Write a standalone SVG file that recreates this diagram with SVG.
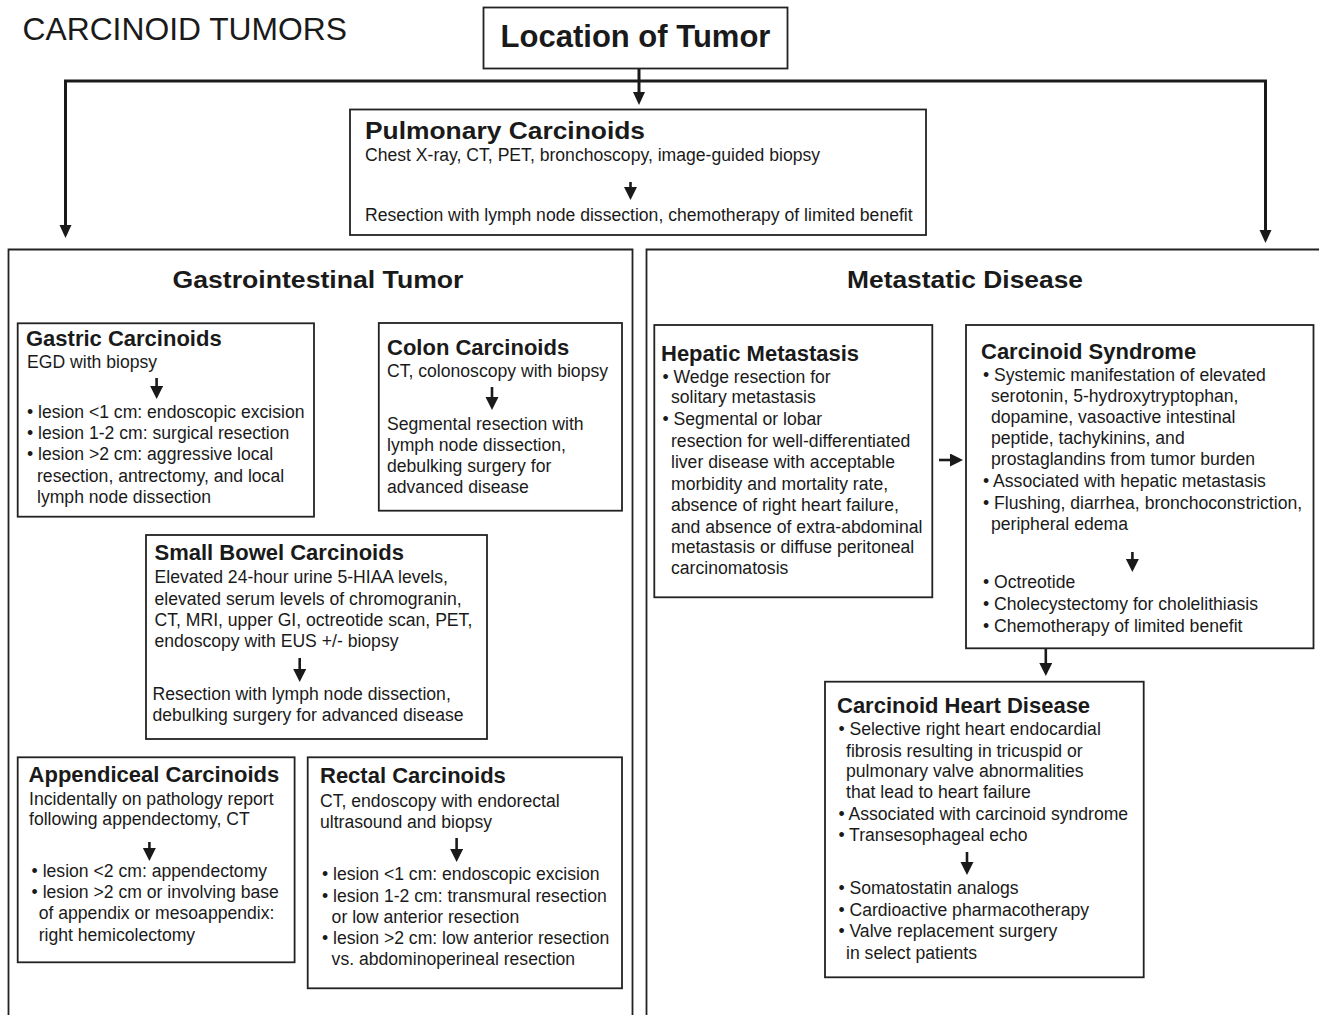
<svg xmlns="http://www.w3.org/2000/svg" width="1319" height="1015" viewBox="0 0 1319 1015">
<style>
text{font-family:"Liberation Sans",Arial,Helvetica,sans-serif;fill:#1a1a1a}
.b{font-size:17.6px}
.t{font-size:22px;font-weight:bold}
.h{font-size:23.6px;font-weight:bold}
.box{fill:#fff;stroke:#222;stroke-width:1.8}
.pan{fill:none;stroke:#222;stroke-width:1.8}
.c{stroke:#1a1a1a;stroke-width:3;fill:none}
.a{stroke:#1a1a1a;stroke-width:2.6;fill:none}
</style>
<defs>
<marker id="big" markerUnits="userSpaceOnUse" markerWidth="14" markerHeight="13" refX="7" refY="6" orient="auto">
<path d="M0,0 L13,6 L0,12 z" fill="#1a1a1a"/>
</marker>
<marker id="sm" markerUnits="userSpaceOnUse" markerWidth="14" markerHeight="14" refX="7" refY="6.5" orient="auto">
<path d="M0,0 L13,6.5 L0,13 z" fill="#1a1a1a"/>
</marker>
</defs>
<rect width="1319" height="1015" fill="#fff"/>

<text x="22.5" y="39.5" style="font-size:31.8px">CARCINOID TUMORS</text>

<g id="connectors">
<path class="c" d="M639,68 V99"/>
<path class="c" d="M65.5,232 V81 H1265.5 V237"/>
<path class="c" d="M639,99 V99.1" marker-end="url(#big)"/>
<path class="c" d="M65.5,231 V232" marker-end="url(#big)"/>
<path class="c" d="M1265.5,236 V237" marker-end="url(#big)"/>
<path class="a" d="M939,460 H957" marker-end="url(#sm)"/>
<path class="a" d="M1045.8,649 V670" marker-end="url(#sm)"/>
</g>

<g id="location">
<rect class="box" x="483.5" y="7.5" width="304" height="61"/>
<text x="635.5" y="47" text-anchor="middle" style="font-size:31px;font-weight:bold">Location of Tumor</text>
</g>

<g id="pulmonary">
<rect class="box" x="350" y="109.5" width="576" height="125.5"/>
<text class="h" x="365" y="139.3" textLength="280" lengthAdjust="spacingAndGlyphs">Pulmonary Carcinoids</text>
<text class="b" x="365" y="160.5">Chest X-ray, CT, PET, bronchoscopy, image-guided biopsy</text>
<path class="a" d="M630.5,182 V194" marker-end="url(#sm)"/>
<text class="b" x="365" y="221">Resection with lymph node dissection, chemotherapy of limited benefit</text>
</g>

<g id="gi-panel">
<path class="pan" d="M8.5,1016 V249.5 H632.5 V1016"/>
<text class="h" x="172.5" y="288" textLength="291" lengthAdjust="spacingAndGlyphs">Gastrointestinal Tumor</text>
</g>

<g id="met-panel">
<path class="pan" d="M646.5,1016 V249.5 H1321"/>
<text class="h" x="847" y="288" textLength="236" lengthAdjust="spacingAndGlyphs">Metastatic Disease</text>
</g>

<g id="gastric">
<rect class="box" x="17.7" y="323.3" width="296.3" height="193.4"/>
<text class="t" x="26" y="346">Gastric Carcinoids</text>
<text class="b" x="27" y="368">EGD with biopsy</text>
<path class="a" d="M156.6,378 V393" marker-end="url(#sm)"/>
<text class="b" x="27" y="418">• lesion &lt;1 cm: endoscopic excision</text>
<text class="b" x="27" y="439">• lesion 1-2 cm: surgical resection</text>
<text class="b" x="27" y="460">• lesion &gt;2 cm: aggressive local</text>
<text class="b" x="37" y="482">resection, antrectomy, and local</text>
<text class="b" x="37" y="503">lymph node dissection</text>
</g>

<g id="colon">
<rect class="box" x="378.8" y="323" width="243.2" height="187.7"/>
<text class="t" x="387" y="355">Colon Carcinoids</text>
<text class="b" x="387" y="377">CT, colonoscopy with biopsy</text>
<path class="a" d="M492,387 V404" marker-end="url(#sm)"/>
<text class="b" x="387" y="430">Segmental resection with</text>
<text class="b" x="387" y="451">lymph node dissection,</text>
<text class="b" x="387" y="472">debulking surgery for</text>
<text class="b" x="387" y="493">advanced disease</text>
</g>

<g id="small-bowel">
<rect class="box" x="146" y="535" width="341" height="204"/>
<text class="t" x="154.5" y="560">Small Bowel Carcinoids</text>
<text class="b" x="154.5" y="583">Elevated 24-hour urine 5-HIAA levels,</text>
<text class="b" x="154.5" y="605">elevated serum levels of chromogranin,</text>
<text class="b" x="154.5" y="626">CT, MRI, upper GI, octreotide scan, PET,</text>
<text class="b" x="154.5" y="647">endoscopy with EUS +/- biopsy</text>
<path class="a" d="M299.7,658 V676" marker-end="url(#sm)"/>
<text class="b" x="152.5" y="700">Resection with lymph node dissection,</text>
<text class="b" x="152.5" y="721">debulking surgery for advanced disease</text>
</g>

<g id="appendiceal">
<rect class="box" x="17.7" y="757.3" width="276.9" height="205"/>
<text class="t" x="28.6" y="782">Appendiceal Carcinoids</text>
<text class="b" x="29" y="805">Incidentally on pathology report</text>
<text class="b" x="29" y="825">following appendectomy, CT</text>
<path class="a" d="M149.4,842 V855" marker-end="url(#sm)"/>
<text class="b" x="31.6" y="877">• lesion &lt;2 cm: appendectomy</text>
<text class="b" x="31.6" y="898">• lesion &gt;2 cm or involving base</text>
<text class="b" x="38.7" y="919">of appendix or mesoappendix:</text>
<text class="b" x="38.7" y="941">right hemicolectomy</text>
</g>

<g id="rectal">
<rect class="box" x="307.7" y="757.3" width="314.3" height="231"/>
<text class="t" x="320" y="783">Rectal Carcinoids</text>
<text class="b" x="320" y="807">CT, endoscopy with endorectal</text>
<text class="b" x="320" y="828">ultrasound and biopsy</text>
<path class="a" d="M456.6,838 V856" marker-end="url(#sm)"/>
<text class="b" x="322" y="880">• lesion &lt;1 cm: endoscopic excision</text>
<text class="b" x="322" y="902">• lesion 1-2 cm: transmural resection</text>
<text class="b" x="331.6" y="923">or low anterior resection</text>
<text class="b" x="322" y="944">• lesion &gt;2 cm: low anterior resection</text>
<text class="b" x="331.6" y="965">vs. abdominoperineal resection</text>
</g>

<g id="hepatic">
<rect class="box" x="654.3" y="325" width="278" height="272.3"/>
<text class="t" x="661" y="361">Hepatic Metastasis</text>
<text class="b" x="662.5" y="383">• Wedge resection for</text>
<text class="b" x="671" y="403">solitary metastasis</text>
<text class="b" x="662.5" y="425">• Segmental or lobar</text>
<text class="b" x="671" y="447">resection for well-differentiated</text>
<text class="b" x="671" y="468">liver disease with acceptable</text>
<text class="b" x="671" y="490">morbidity and mortality rate,</text>
<text class="b" x="671" y="511">absence of right heart failure,</text>
<text class="b" x="671" y="533">and absence of extra-abdominal</text>
<text class="b" x="671" y="553">metastasis or diffuse peritoneal</text>
<text class="b" x="671" y="574">carcinomatosis</text>
</g>

<g id="carcinoid-syndrome">
<rect class="box" x="966" y="325" width="347.5" height="323.3"/>
<text class="t" x="981" y="358.5">Carcinoid Syndrome</text>
<text class="b" x="983" y="381">• Systemic manifestation of elevated</text>
<text class="b" x="991" y="402">serotonin, 5-hydroxytryptophan,</text>
<text class="b" x="991" y="423">dopamine, vasoactive intestinal</text>
<text class="b" x="991" y="444">peptide, tachykinins, and</text>
<text class="b" x="991" y="465">prostaglandins from tumor burden</text>
<text class="b" x="983" y="487">• Associated with hepatic metastasis</text>
<text class="b" x="983" y="509">• Flushing, diarrhea, bronchoconstriction,</text>
<text class="b" x="991" y="530">peripheral edema</text>
<path class="a" d="M1132.4,552 V566" marker-end="url(#sm)"/>
<text class="b" x="983" y="588">• Octreotide</text>
<text class="b" x="983" y="610">• Cholecystectomy for cholelithiasis</text>
<text class="b" x="983" y="632">• Chemotherapy of limited benefit</text>
</g>

<g id="carcinoid-heart">
<rect class="box" x="825" y="681.7" width="318.7" height="295.6"/>
<text class="t" x="837" y="713">Carcinoid Heart Disease</text>
<text class="b" x="838.4" y="735">• Selective right heart endocardial</text>
<text class="b" x="846" y="757">fibrosis resulting in tricuspid or</text>
<text class="b" x="846" y="777">pulmonary valve abnormalities</text>
<text class="b" x="846" y="798">that lead to heart failure</text>
<text class="b" x="838.4" y="820">• Associated with carcinoid syndrome</text>
<text class="b" x="838.4" y="841">• Transesophageal echo</text>
<path class="a" d="M967,852 V869" marker-end="url(#sm)"/>
<text class="b" x="838.4" y="894">• Somatostatin analogs</text>
<text class="b" x="838.4" y="916">• Cardioactive pharmacotherapy</text>
<text class="b" x="838.4" y="937">• Valve replacement surgery</text>
<text class="b" x="846" y="959">in select patients</text>
</g>
</svg>
